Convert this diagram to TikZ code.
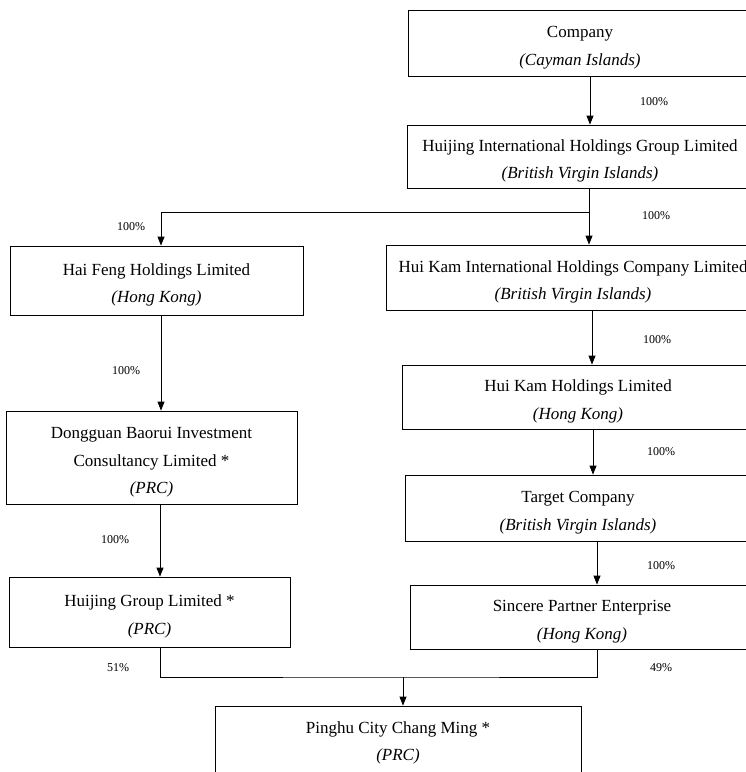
\documentclass[tikz,border=0pt]{standalone}
\usepackage{fontspec}
\setmainfont{Liberation Serif}
\usetikzlibrary{arrows.meta}
\newcommand{\lowerline}{\rule{0pt}{21pt}}

\begin{document}
\begin{tikzpicture}[x=1pt, y=-1pt, line width=0.8pt,
    entity/.style={draw, align=center, inner sep=0pt, font=\fontsize{17}{27.5}\selectfont},
    share/.style={font=\fontsize{12}{14}\selectfont},
    own/.style={-{Triangle[length=9pt, width=7pt]}}]
    \useasboundingbox (0,0) rectangle (746,772);
    \clip (0,0) rectangle (746,772);
    % right-hand chain
    \node[entity, minimum width=344pt, minimum height=66pt] at (580,43) (company) {\lowerline Company\\ \textit{(Cayman Islands)}};
    \node[entity, minimum width=346pt, minimum height=63pt] at (580,156.5) (hjintl) {\lowerline Huijing International Holdings Group Limited\\ \textit{(British Virgin Islands)}};
    \node[entity, minimum width=374pt, minimum height=65pt] at (573,277.5) (hkintl) {\lowerline Hui Kam International Holdings Company Limited\\ \textit{(British Virgin Islands)}};
    \node[entity, minimum width=352pt, minimum height=64pt] at (578,397) (hkhold) {\lowerline Hui Kam Holdings Limited\\ \textit{(Hong Kong)}};
    \node[entity, minimum width=346pt, minimum height=66pt] at (578,508) (target) {\lowerline Target Company\\ \textit{(British Virgin Islands)}};
    \node[entity, minimum width=344pt, minimum height=64pt] at (582,617) (sincere) {\lowerline Sincere Partner Enterprise\\ \textit{(Hong Kong)}};
    % left-hand chain
    \node[entity, minimum width=293pt, minimum height=69pt] at (156.5,280.5) (haifeng) {\lowerline Hai Feng Holdings Limited\\ \textit{(Hong Kong)}};
    \node[entity, minimum width=291pt, minimum height=93pt] at (151.5,457.5) (dongguan) {\lowerline Dongguan Baorui Investment\\ Consultancy Limited *\\ \textit{(PRC)}};
    \node[entity, minimum width=281pt, minimum height=70pt] at (149.5,612) (hjgroup) {\lowerline Huijing Group Limited *\\ \textit{(PRC)}};
    \node[entity, minimum width=366pt, minimum height=74pt] at (398,743) (pinghu) {Pinghu City Chang Ming *\\ \textit{(PRC)}};

    \coordinate (split) at (589,212);
    \coordinate (join) at (403,677);

    \draw[own] ([xshift=10pt]company.south) -- ([xshift=10pt]company.south |- hjintl.north);
    \draw ([xshift=9pt]hjintl.south) -- (split);
    \draw[own] (split) -- (split |- hkintl.north);
    \draw[own] (split) -| ([xshift=4.5pt]haifeng.north);
    \draw[own] ([xshift=4.5pt]haifeng.south) -- ([xshift=4.5pt]haifeng.south |- dongguan.north);
    \draw[own] ([xshift=8.5pt]dongguan.south) -- ([xshift=8.5pt]dongguan.south |- hjgroup.north);
    \draw[own] ([xshift=19pt]hkintl.south) -- ([xshift=19pt]hkintl.south |- hkhold.north);
    \draw[own] ([xshift=15pt]hkhold.south) -- ([xshift=15pt]hkhold.south |- target.north);
    \draw[own] ([xshift=19pt]target.south) -- ([xshift=19pt]target.south |- sincere.north);
    \draw ([xshift=10.5pt]hjgroup.south) |- (join) -| ([xshift=15pt]sincere.south);
    \draw[own] (join) -- (join |- pinghu.north);

    \node[share] at (654,102) (p1) {100\%};
    \node[share] at (131,227) (p2) {100\%};
    \node[share] at (656,216) (p3) {100\%};
    \node[share] at (126,371) (p4) {100\%};
    \node[share] at (657,340) (p5) {100\%};
    \node[share] at (661,452) (p6) {100\%};
    \node[share] at (661,566) (p7) {100\%};
    \node[share] at (115,540) (p8) {100\%};
    \node[share] at (118,668) (p9) {51\%};
    \node[share] at (661,668) (p10) {49\%};
\end{tikzpicture}
\end{document}
